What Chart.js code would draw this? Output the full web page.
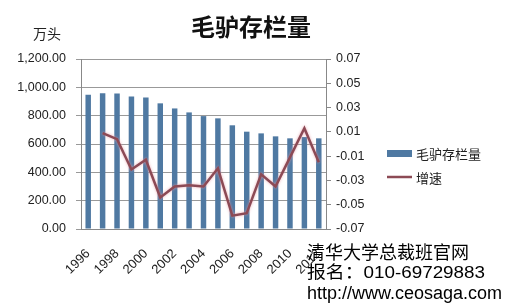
<!DOCTYPE html>
<html>
<head>
<meta charset="utf-8">
<script src="https://cdn.jsdelivr.net/npm/chart.js@4/dist/chart.umd.min.js"></script>
<style>
html,body{margin:0;padding:0;background:#fff;}
#wrap{width:508px;height:306px;position:relative;}
</style>
</head>
<body>
<div id="wrap"><canvas id="c" width="508" height="306"></canvas></div>
<script>
const years = ['1996','1997','1998','1999','2000','2001','2002','2003','2004','2005','2006','2007','2008','2009','2010','2011','2012'];
const stock = [948, 958, 957, 936, 929, 887, 851, 823, 797, 781, 732, 687, 675, 654, 640, 649, 640];
const growth = [null, 0.009, 0.004, -0.021, -0.013, -0.044, -0.035, -0.034, -0.035, -0.020, -0.059, -0.057, -0.025, -0.035, -0.011, 0.013, -0.015];
const leftTicks = [0, 200, 400, 600, 800, 1000, 1200];
const rightTicks = [-0.07, -0.05, -0.03, -0.01, 0.01, 0.03, 0.05, 0.07];
const seriesNames = ['毛驴存栏量', '增速'];
const titleText = '毛驴存栏量';
const unitText = '万头';
const noteLines = ['清华大学总裁班官网', '报名：010-69729883', 'http://www.ceosaga.com'];

const barColor = '#4f79a2';
const lineColor = '#8c4a55';
const numFont = {family: 'Liberation Sans, Arial, sans-serif', size: 12.5};

const extras = {
  id: 'extras',
  beforeDatasetDraw(chart, args) {
    if (args.index === 1) {
      const ctx = chart.ctx;
      ctx.save();
      ctx.shadowColor = 'rgba(230,150,160,0.8)';
      ctx.shadowBlur = 3;
    }
  },
  afterDatasetDraw(chart, args) {
    if (args.index === 1) chart.ctx.restore();
  },
  afterDraw(chart) {
    const ctx = chart.ctx;
    ctx.save();
    ctx.fillStyle = '#111';
    ctx.textAlign = 'center';
    ctx.textBaseline = 'middle';
    ctx.font = '600 24px "Noto Sans CJK SC"';
    ctx.fillText(titleText, 251, 27);
    ctx.font = '14px "Noto Sans CJK SC"';
    ctx.fillStyle = '#222';
    ctx.fillText(unitText, 47, 34);
    // legend
    ctx.fillStyle = barColor;
    ctx.fillRect(387, 150, 25, 7);
    ctx.strokeStyle = lineColor;
    ctx.lineWidth = 2.5;
    ctx.beginPath(); ctx.moveTo(387, 177); ctx.lineTo(412, 177); ctx.stroke();
    ctx.fillStyle = '#222';
    ctx.textAlign = 'left';
    ctx.font = '13px "Noto Sans CJK SC"';
    ctx.fillText(chart.data.datasets[0].label, 416, 154);
    ctx.fillText(chart.data.datasets[1].label, 416, 178);
    // note text
    ctx.fillStyle = '#000';
    ctx.font = '18px "Noto Sans CJK SC"';
    ctx.fillText(noteLines[0], 307, 252);
    ctx.font = '17px "Liberation Sans", "Noto Sans CJK SC"';
    const w1 = ctx.measureText(noteLines[1]).width;
    ctx.save();
    ctx.translate(307, 273);
    ctx.scale(178 / w1, 1);
    ctx.fillText(noteLines[1], 0, 0);
    ctx.restore();
    ctx.font = '18px "Liberation Sans", "Noto Sans CJK SC"';
    ctx.fillText(noteLines[2], 307, 294);
    ctx.restore();
  }
};

new Chart(document.getElementById('c'), {
  data: {
    labels: years,
    datasets: [
      {type: 'bar', label: seriesNames[0], data: stock, backgroundColor: barColor, yAxisID: 'y',
       barPercentage: 0.38, categoryPercentage: 1, order: 2},
      {type: 'line', label: seriesNames[1], data: growth, borderColor: lineColor, borderWidth: 2.5,
       pointRadius: 0, tension: 0, yAxisID: 'y1', order: 1, spanGaps: false}
    ]
  },
  options: {
    responsive: false,
    animation: false,
    devicePixelRatio: 1,
    layout: {padding: {top: 59, left: 0, right: 0, bottom: 0}},
    plugins: {legend: {display: false}, title: {display: false}, tooltip: {enabled: false}},
    scales: {
      x: {
        offset: true,
        grid: {display: false},
        border: {display: true, color: '#888'},
        ticks: {
          autoSkip: false, maxRotation: 45, minRotation: 45, color: '#222',
          font: {family: 'Liberation Sans, Arial, sans-serif', size: 13}, padding: 9,
          callback: function(v, i) { return i % 2 === 0 ? years[i] : ''; }
        },
        afterFit(s) { s.height = 77; }
      },
      y: {
        position: 'left', min: 0, max: 1200,
        afterBuildTicks(s) { s.ticks = leftTicks.map(v => ({value: v})); },
        grid: {color: '#999', tickLength: 5, drawTicks: true},
        border: {display: true, color: '#888'},
        ticks: {color: '#222', font: numFont, padding: 10,
          callback: v => v.toLocaleString('en-US', {minimumFractionDigits: 2, maximumFractionDigits: 2})},
        afterFit(s) { s.width = 81; }
      },
      y1: {
        position: 'right', min: -0.07, max: 0.07,
        afterBuildTicks(s) { s.ticks = rightTicks.map(v => ({value: v})); },
        grid: {drawOnChartArea: false, drawTicks: true, tickLength: 5, color: '#888'},
        border: {display: true, color: '#888'},
        ticks: {color: '#222', font: numFont, padding: 5, callback: v => v.toFixed(2)},
        afterFit(s) { s.width = 182; }
      }
    }
  },
  plugins: [extras]
});
</script>
</body>
</html>
